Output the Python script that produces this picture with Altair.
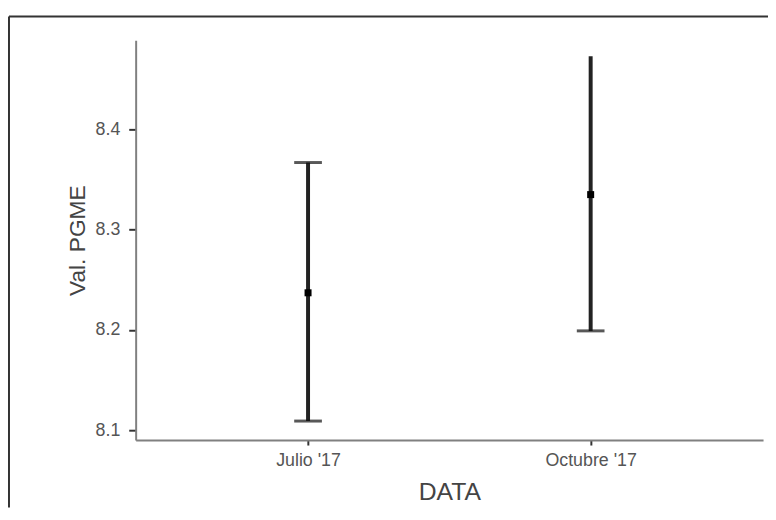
import altair as alt
import pandas as pd

categories = ["Julio '17", "Octubre '17"]
means = [8.237, 8.335]
lows = [8.109, 8.199]
highs = [8.367, 8.473]
cap_cats = ["Julio '17", "Julio '17", "Octubre '17"]
cap_vals = [8.367, 8.109, 8.199]
y_ticks = [8.1, 8.2, 8.3, 8.4]

df = pd.DataFrame({"DATA": categories, "mean": means, "lo": lows, "hi": highs})
caps = pd.DataFrame({"DATA": cap_cats, "v": cap_vals})

xs = alt.Scale(type="point", domain=categories, padding=0.61)
ys = alt.Scale(domain=[8.09, 8.489], nice=False, zero=False)

x_axis = alt.Axis(title="DATA", labelAngle=0, labelFontSize=18, labelColor="#555555",
                  titleFontSize=25, titleColor="#444444", titleFontWeight="normal",
                  domainColor="#808080", domainWidth=2, tickColor="#333333", tickSize=5,
                  tickWidth=2, labelPadding=7, titlePadding=10, grid=False,
                  labelFont="Liberation Sans", titleFont="Liberation Sans")
y_axis = alt.Axis(title="Val. PGME", values=y_ticks, format=".1f", labelFontSize=18,
                  labelColor="#555555", titleFontSize=23, titleColor="#444444",
                  titleFontWeight="normal", domainColor="#808080", domainWidth=2,
                  tickColor="#333333", tickSize=7, tickWidth=2, labelPadding=9,
                  titlePadding=6, grid=False,
                  labelFont="Liberation Sans", titleFont="Liberation Sans")

base = alt.Chart(df)

bars = base.mark_rule(color="#222222", strokeWidth=4).encode(
    x=alt.X("DATA:N", scale=xs, axis=x_axis, sort=categories),
    y=alt.Y("lo:Q", scale=ys, axis=y_axis),
    y2="hi:Q",
)

cap_marks = alt.Chart(caps).mark_tick(color="#111111", thickness=3, size=28, orient="horizontal").encode(
    x=alt.X("DATA:N", scale=xs, sort=categories),
    y=alt.Y("v:Q", scale=ys),
)

pts = base.mark_square(color="#000000", size=50, opacity=1).encode(
    x=alt.X("DATA:N", scale=xs, sort=categories),
    y=alt.Y("mean:Q", scale=ys),
)

one = pd.DataFrame({"a": [1]})
border_top = alt.Chart(one).mark_rule(color="#333333", strokeWidth=2).encode(
    x=alt.value(-128), x2=alt.value(639), y=alt.value(-24)
)
border_left = alt.Chart(one).mark_rule(color="#333333", strokeWidth=2).encode(
    x=alt.value(-128), y=alt.value(-24), y2=alt.value(472)
)

chart = alt.layer(border_top, border_left, bars, cap_marks, pts).properties(
    width=634, height=404,
    background="white",
    autosize=alt.AutoSizeParams(type="none"),
    padding={"left": 129, "top": 30, "right": 5, "bottom": 68},
).configure_view(strokeWidth=0, stroke=None)

chart.save("out.html", embed_options={"renderer": "svg", "actions": False})
